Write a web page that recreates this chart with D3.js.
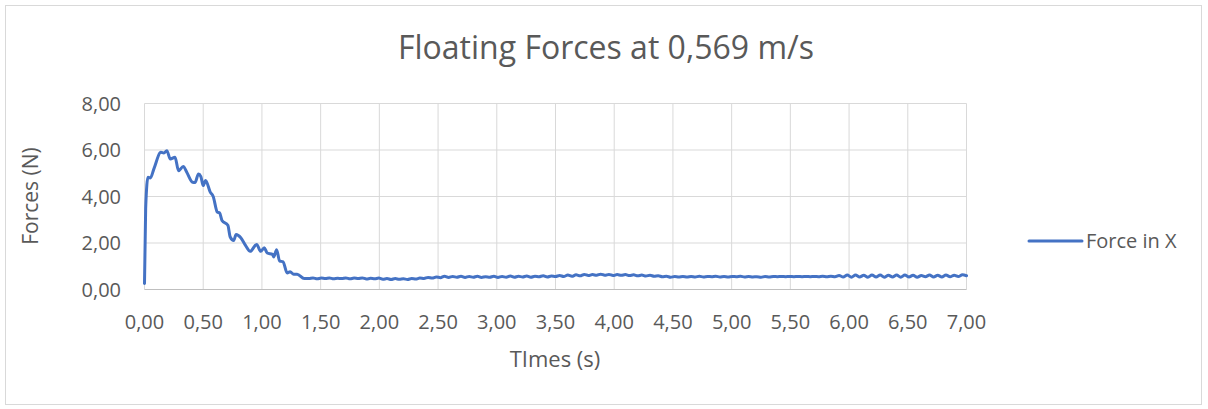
<!DOCTYPE html>
<html><head><meta charset="utf-8">
<script src="https://cdn.jsdelivr.net/npm/d3@7"></script>
<style>body{margin:0;background:#fff}svg text{font-family:"Open Sans",sans-serif;fill:#595959}</style>
</head><body><svg id="c" width="1208" height="409"></svg>
<script>
const title = "Floating Forces at 0,569 m/s";
const seriesName = "Force in X";
const xTicks = [0,0.5,1,1.5,2,2.5,3,3.5,4,4.5,5,5.5,6,6.5,7];
const yTicks = [0,2,4,6,8];
// rise and decay section (explicit times)
const headTimes = [0,0.01,0.03,0.05,0.08,0.14,0.165,0.19,0.22,0.26,0.29,0.33,0.36,0.41,0.43,0.46,0.48,0.50,0.52,0.56,0.585,0.62,0.64,0.66,0.71,0.73,0.76,0.78,0.82,0.86,0.90,0.955,0.99,1.02,1.045,1.09,1.10,1.125,1.15,1.18,1.215,1.24,1.27,1.30,1.36];
const headForces = [0.26,3.5,4.83,4.8,5.19,5.9,5.87,5.97,5.61,5.69,5.11,5.29,5.04,4.61,4.6,4.97,4.86,4.47,4.69,4.19,4.0,3.33,3.29,2.97,2.76,2.26,2.11,2.37,2.23,1.9,1.64,1.94,1.64,1.8,1.57,1.51,1.4,1.71,1.23,1.19,0.71,0.76,0.66,0.66,0.47];
// settled section, sampled evenly from 1.40 s to 7.00 s
const tailStart = 1.40, tailEnd = 7.00;
const tailForces = [
0.47,0.50,0.46,0.49,0.47,0.50,0.46,0.48,0.47,0.50,0.46,0.49,
0.47,0.50,0.45,0.48,0.46,0.49,0.44,0.47,0.43,0.47,0.44,0.46,
0.43,0.47,0.45,0.49,0.47,0.52,0.49,0.54,
0.51,0.57,0.52,0.56,0.53,0.57,0.52,0.56,0.53,0.57,0.52,0.55,0.53,0.57,0.52,0.56,0.53,0.58,0.53,0.57,0.54,0.58,0.53,0.57,0.55,0.59,0.54,0.58,0.56,
0.60,0.56,0.62,0.57,0.63,0.59,0.65,0.60,0.64,0.61,0.66,0.61,0.65,0.60,0.64,0.61,0.64,0.60,0.63,0.59,0.62,0.58,0.61,
0.57,0.59,0.55,0.57,0.53,0.56,0.54,
0.56,0.54,0.56,0.54,0.57,0.54,0.56,0.55,0.57,0.54,0.56,0.54,0.56,0.55,0.57,0.54,0.56,0.54,0.55,0.53,0.56,0.54,0.56,0.55,0.56,0.55,0.56,0.55,0.56,0.55,0.56,0.55,0.56,0.55,0.57,0.55,0.57,0.55,
0.60,0.54,0.62,0.53,0.62,0.54,0.61,0.53,0.62,0.54,0.62,0.53,0.61,0.54,0.62,0.53,0.62,0.54,0.61,0.53,0.60,0.55,0.62,0.54,0.61,0.54,0.62,0.55,0.61,0.56,0.63,0.59];

const tailStep = (tailEnd - tailStart) / (tailForces.length - 1);
const data = headTimes.map((t,i)=>({t, f: headForces[i]}))
  .concat(tailForces.map((f,i)=>({t: tailStart + i*tailStep, f})));

const svg = d3.select("#c");
const fmt = v => d3.format(".2f")(v).replace(".", ",");
const x = d3.scaleLinear().domain([0,7]).range([144.5,966.5]);
const y = d3.scaleLinear().domain([0,8]).range([289.5,103.5]);

svg.append("rect").attr("x",5.5).attr("y",5.5).attr("width",1196).attr("height",399)
  .attr("fill","#fff").attr("stroke","#d9d9d9");

// gridlines
svg.append("g").selectAll("line").data(yTicks.slice(1)).join("line")
  .attr("x1",x(0)).attr("x2",x(7)).attr("y1",d=>y(d)).attr("y2",d=>y(d))
  .attr("stroke","#d9d9d9").attr("stroke-width",1);
svg.append("g").selectAll("line").data(xTicks).join("line")
  .attr("y1",y(0)).attr("y2",y(8)).attr("x1",d=>x(d)).attr("x2",d=>x(d))
  .attr("stroke","#d9d9d9").attr("stroke-width",1);
svg.append("line").attr("x1",x(0)).attr("x2",x(7)).attr("y1",y(0)).attr("y2",y(0))
  .attr("stroke","#bfbfbf").attr("stroke-width",1);

// tick labels
svg.append("g").selectAll("text").data(yTicks).join("text")
  .attr("x",121).attr("y",d=>y(d)).attr("dy","0.35em").attr("text-anchor","end")
  .attr("font-size",20).text(fmt);
svg.append("g").selectAll("text").data(xTicks).join("text")
  .attr("x",d=>x(d)).attr("y",322).attr("dy","0.35em").attr("text-anchor","middle")
  .attr("font-size",20).text(fmt);

// titles
svg.append("text").attr("x",606).attr("y",59).attr("text-anchor","middle")
  .attr("font-size",32).text(title);
svg.append("text").attr("x",555).attr("y",359).attr("dy","0.35em").attr("text-anchor","middle")
  .attr("font-size",22).text("TImes (s)");
svg.append("text").attr("transform","translate(31,196) rotate(-90)").attr("dy","0.35em")
  .attr("text-anchor","middle").attr("font-size",21).text("Forces (N)");

// line
const line = d3.line().x(d=>x(d.t)).y(d=>y(d.f)).curve(d3.curveMonotoneX);
svg.append("path").datum(data).attr("d",line).attr("fill","none")
  .attr("stroke","#4472C4").attr("stroke-width",3).attr("stroke-linejoin","round").attr("stroke-linecap","round");

// legend
svg.append("line").attr("x1",1029).attr("x2",1082).attr("y1",241).attr("y2",241)
  .attr("stroke","#4472C4").attr("stroke-width",3).attr("stroke-linecap","round");
svg.append("text").attr("x",1086).attr("y",241).attr("dy","0.35em").attr("font-size",20).text(seriesName);
</script></body></html>
